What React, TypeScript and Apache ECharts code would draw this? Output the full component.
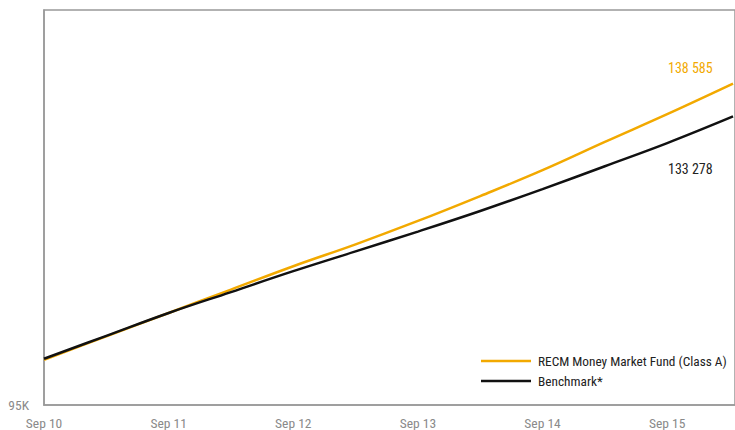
import React, { useEffect, useRef } from "react";
import * as echarts from "echarts";

const months = [0, 6, 12, 18, 24, 30, 36, 42, 48, 54, 60, 66.34];
const fundValues = [101304, 104559, 107815, 111071, 114326, 117374, 120630, 124093, 127695, 131630, 135495, 139748];
const benchmarkValues = [101442, 104629, 107815, 110724, 113634, 116391, 119148, 122015, 125063, 128250, 131464, 135177];
const fundName = "RECM Money Market Fund (Class A)";
const benchName = "Benchmark*";
const fundEndLabel = "138 585";
const benchEndLabel = "133 278";
const yMinLabel = "95K";

const FONT = "'Roboto Condensed', 'DejaVu Sans Condensed', sans-serif";
const GOLD = "#F2A900";
const BLACK = "#111111";
const GRAY = "#999999";

export default function App() {
  const ref = useRef<HTMLDivElement>(null);
  useEffect(() => {
    document.body.style.margin = "0";
    const chart = echarts.init(ref.current!, null, { renderer: "svg" });
    const toPairs = (vals: number[]) => vals.map((v, i) => [months[i], v]);
    chart.setOption({
      animation: false,
      grid: {
        left: 44,
        right: -2,
        top: 10,
        bottom: 23,
        show: true,
        borderColor: GRAY,
        borderWidth: 1.5,
        backgroundColor: "transparent",
      },
      xAxis: {
        type: "value",
        min: 0,
        max: 66.53,
        interval: 12,
        axisLine: { show: true, lineStyle: { color: GRAY, width: 1.5 } },
        axisTick: { show: false },
        splitLine: { show: false },
        axisLabel: {
          color: "#8a8a8a",
          fontFamily: FONT,
          fontSize: 13.5,
          margin: 11,
          showMaxLabel: false,
          formatter: (v: number) => "Sep " + (10 + Math.round(v / 12)),
        },
      },
      yAxis: {
        type: "value",
        min: 95000,
        max: 150000,
        axisLine: { show: true, lineStyle: { color: GRAY, width: 1.5 } },
        axisTick: { show: false },
        splitLine: { show: false },
        axisLabel: {
          color: "#8a8a8a",
          fontFamily: FONT,
          fontSize: 13.5,
          margin: 15,
          showMinLabel: true,
          showMaxLabel: false,
          formatter: (v: number) => (v === 95000 ? yMinLabel : ""),
        },
      },
      legend: {
        orient: "vertical",
        left: 481,
        top: 354,
        padding: 0,
        itemWidth: 50,
        itemHeight: 2.5,
        itemGap: 6,
        icon: "rect",
        textStyle: { color: "#222", fontFamily: FONT, fontSize: 13.3, lineHeight: 14, padding: [0, 0, 0, 2] },
        data: [fundName, benchName],
      },
      graphic: [
        {
          type: "text",
          left: 668,
          top: 61,
          style: { text: fundEndLabel, fill: GOLD, font: "14px " + FONT },
        },
        {
          type: "text",
          left: 668,
          top: 162,
          style: { text: benchEndLabel, fill: "#222", font: "14px " + FONT },
        },
      ],
      series: [
        {
          name: fundName,
          type: "line",
          data: toPairs(fundValues),
          smooth: 0.4,
          showSymbol: false,
          itemStyle: { color: GOLD },
          lineStyle: { color: GOLD, width: 2.5 },
        },
        {
          name: benchName,
          type: "line",
          data: toPairs(benchmarkValues),
          smooth: 0.4,
          showSymbol: false,
          itemStyle: { color: BLACK },
          lineStyle: { color: BLACK, width: 2.5 },
        },
      ],
    });
    return () => chart.dispose();
  }, []);
  return <div ref={ref} style={{ width: 735, height: 430 }} />;
}
